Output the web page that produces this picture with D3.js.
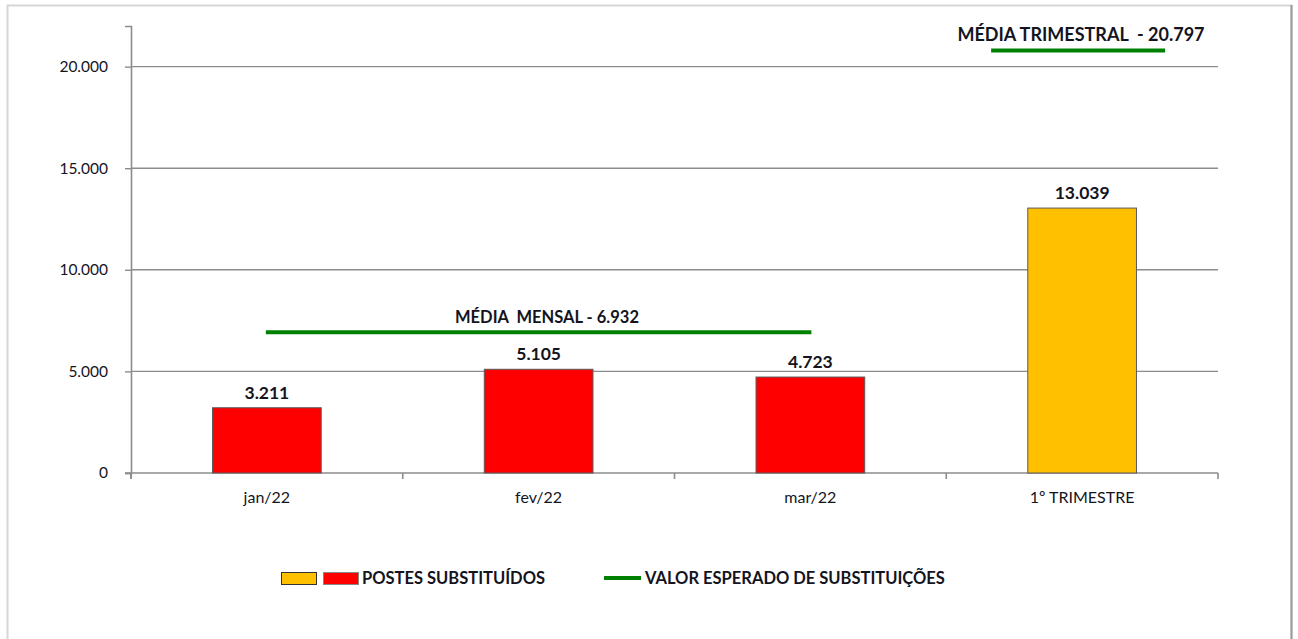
<!DOCTYPE html>
<html><head><meta charset="utf-8">
<script src="https://cdn.jsdelivr.net/npm/d3@7"></script>
<style>
html,body{margin:0;padding:0;background:#fff;}
svg{display:block;font-family:Lato,"Open Sans",sans-serif;}
</style></head>
<body>
<svg id="chart" width="1298" height="639"></svg>
<script>
const categories = ["jan/22","fev/22","mar/22","1º TRIMESTRE"];
const postes = [3211, 5105, 4723, 13039];
const barColors = ["#ff0000","#ff0000","#ff0000","#ffc000"];
const yTicks = [0, 5000, 10000, 15000, 20000];
const mediaMensal = 6932;
const mediaTrimestral = 20797;
const legendLabels = ["POSTES SUBSTITUÍDOS","VALOR ESPERADO DE SUBSTITUIÇÕES"];

const fmt = v => d3.format(",")(v).replace(/,/g,".");
const svg = d3.select("#chart");
const textColor = "#14141e";

// outer frame
svg.append("rect").attr("x",7.5).attr("y",5.5).attr("width",1284).attr("height",640)
  .attr("fill","none").attr("stroke","#d6d6d6").attr("stroke-width",2);
svg.append("line").attr("x1",1291.5).attr("x2",1291.5).attr("y1",5).attr("y2",639)
  .attr("stroke","#9a9a9a").attr("stroke-width",2);

const x = d3.scaleBand().domain(categories).range([131,1218]).paddingInner(0.6).paddingOuter(0.3);
const y = d3.scaleLinear().domain([0,22000]).range([473,26]);
const gridColor = "#8c8c8c";

// gridlines
svg.append("g").selectAll("line").data(yTicks.filter(d=>d>0)).join("line")
  .attr("x1",131).attr("x2",1218).attr("y1",d=>y(d)).attr("y2",d=>y(d))
  .attr("stroke",gridColor).attr("stroke-width",1.4);

// y axis
const yAxis = svg.append("g").attr("transform","translate(131,0)")
  .call(d3.axisLeft(y).tickValues(yTicks).tickFormat(fmt).tickSize(6).tickPadding(17));
yAxis.select(".domain").attr("stroke",gridColor).attr("stroke-width",1.6);
yAxis.selectAll(".tick line").attr("stroke",gridColor).attr("stroke-width",1.4);
yAxis.selectAll(".tick text").attr("font-size",15.5).attr("fill",textColor).attr("font-family","Lato, sans-serif");
svg.append("line").attr("x1",131).attr("x2",131).attr("y1",473).attr("y2",479).attr("stroke",gridColor).attr("stroke-width",1.6);

// x axis
svg.append("line").attr("x1",125).attr("x2",1218).attr("y1",y(0)).attr("y2",y(0))
  .attr("stroke",gridColor).attr("stroke-width",1.6);
const step = x.step();
const bounds = categories.map((c,i)=> x(c) - step*0.3).concat([x(categories[3]) + x.bandwidth() + step*0.3]);
svg.append("g").selectAll("line").data(bounds).join("line")
  .attr("x1",d=>d).attr("x2",d=>d).attr("y1",y(0)).attr("y2",y(0)+6)
  .attr("stroke",gridColor).attr("stroke-width",1.6);
svg.append("g").selectAll("text").data(categories).join("text")
  .attr("x",d=>x(d)+x.bandwidth()/2).attr("y",503).attr("text-anchor","middle")
  .attr("font-size",16).attr("fill",textColor).text(d=>d);

// bars
svg.append("g").selectAll("rect").data(postes).join("rect")
  .attr("x",(d,i)=>x(categories[i])).attr("y",d=>y(d))
  .attr("width",x.bandwidth()).attr("height",d=>y(0)-y(d))
  .attr("fill",(d,i)=>barColors[i]).attr("stroke","#5a5a5a").attr("stroke-width",1);

// value labels
svg.append("g").selectAll("text").data(postes).join("text")
  .attr("x",(d,i)=>x(categories[i])+x.bandwidth()/2).attr("y",d=>y(d)-9)
  .attr("text-anchor","middle").attr("font-size",17.5).attr("font-weight","bold")
  .attr("fill",textColor).text(fmt);

// mean lines
const green = "#008000";
const cx = c => x(c)+x.bandwidth()/2;
svg.append("line").attr("x1",cx(categories[0])-1).attr("x2",cx(categories[2])+1)
  .attr("y1",y(mediaMensal)).attr("y2",y(mediaMensal)).attr("stroke",green).attr("stroke-width",4);
svg.append("text").attr("x",547).attr("y",y(mediaMensal)-9).attr("text-anchor","middle")
  .attr("font-size",16.5).attr("font-weight","bold").attr("fill",textColor).attr("xml:space","preserve")
  .text("MÉDIA  MENSAL - " + fmt(mediaMensal));
const tc = cx(categories[3]) - 4;
svg.append("line").attr("x1",tc-87).attr("x2",tc+87)
  .attr("y1",y(mediaTrimestral)).attr("y2",y(mediaTrimestral)).attr("stroke",green).attr("stroke-width",4);
svg.append("text").attr("x",1081).attr("y",y(mediaTrimestral)-9).attr("text-anchor","middle")
  .attr("font-size",18).attr("font-weight","bold").attr("fill",textColor).attr("xml:space","preserve")
  .text("MÉDIA TRIMESTRAL  - " + fmt(mediaTrimestral));

// legend
const lg = svg.append("g");
lg.append("rect").attr("x",281.5).attr("y",572.5).attr("width",35).attr("height",12)
  .attr("fill","#ffc000").attr("stroke","#333").attr("stroke-width",1);
lg.append("rect").attr("x",323.5).attr("y",572.5).attr("width",35).attr("height",12)
  .attr("fill","#ff0000").attr("stroke","#888").attr("stroke-width",1);
lg.append("text").attr("x",362).attr("y",584).attr("font-size",16.5).attr("font-weight","bold")
  .attr("fill",textColor).text(legendLabels[0]);
lg.append("line").attr("x1",604).attr("x2",641).attr("y1",578).attr("y2",578)
  .attr("stroke",green).attr("stroke-width",4);
lg.append("text").attr("x",645).attr("y",584).attr("font-size",16.5).attr("font-weight","bold")
  .attr("fill",textColor).text(legendLabels[1]);
</script>
</body></html>
